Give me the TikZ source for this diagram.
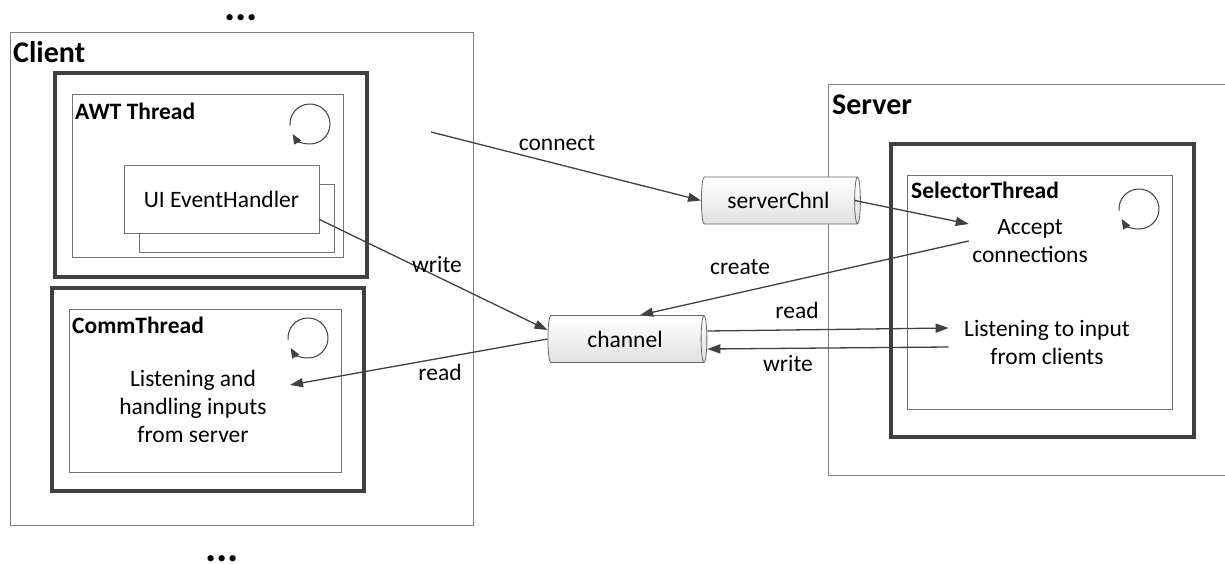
\documentclass[tikz,border=0pt]{standalone}
\usepackage{fontspec}
\setmainfont{Carlito}
\usetikzlibrary{shapes.geometric,arrows.meta}

\begin{document}
\begin{tikzpicture}[x=1pt,y=-1pt]
        \tikzstyle{every node}=[font=\fontsize{23.5}{28}\selectfont, text=black]
        \tikzstyle{outerbox}=[draw=black!50, line width=1pt, rectangle, inner sep=0pt]
        \tikzstyle{thickbox}=[draw=black!75, line width=3.5pt, rectangle, inner sep=0pt]
        \tikzstyle{thinbox}=[draw=black!55, line width=1pt, rectangle, inner sep=0pt, fill=white]
        \tikzstyle{title}=[anchor=base west, inner sep=0pt, font=\fontsize{23.5}{28}\selectfont\bfseries]
        \tikzstyle{bigtitle}=[title, font=\fontsize{30}{34}\selectfont\bfseries]
        \tikzstyle{chnl}=[cylinder, draw=black!60, line width=0.8pt, aspect=0.25, minimum width=47pt, minimum height=159pt, top color=white, bottom color=black!12]
        \tikzstyle{arr}=[draw=black!75, line width=1.3pt, -{Triangle[length=13pt,width=9pt]}]
        \tikzstyle{loopc}=[draw=black!75, line width=1pt, -{Triangle[length=10pt,width=8pt]}]
        \tikzstyle{dots}=[font=\fontsize{42}{42}\selectfont\bfseries]
        \useasboundingbox (0,0) rectangle (1225,564);
        % client side
        \node[outerbox, minimum width=463pt, minimum height=492pt] (client) at (241.5,279) {};
        \node[bigtitle] (clientlbl) at (13,63) {Client};
        \node[thickbox, minimum width=312pt, minimum height=204pt] (awt) at (211,175) {};
        \node[thinbox, minimum width=271pt, minimum height=162pt] (awtin) at (207.5,176) {};
        \node[title] (awtlbl) at (75,120) {AWT Thread};
        \draw[loopc] (310,124) ++(-185:20) arc[start angle=-185, end angle=150, radius=20];
        \node[thinbox, minimum width=195pt, minimum height=67pt] (uiback) at (236.5,218.5) {};
        \node[thinbox, minimum width=195pt, minimum height=67pt] (ui) at (221.5,199.5) {UI EventHandler};
        \node[thickbox, minimum width=312pt, minimum height=203pt] (comm) at (208,389.5) {};
        \node[thinbox, minimum width=272pt, minimum height=163pt] (commin) at (205,390.5) {};
        \node[title] (commlbl) at (72,333) {CommThread};
        \draw[loopc] (308,338) ++(-185:20) arc[start angle=-185, end angle=150, radius=20];
        \node[align=center] (commtxt) at (193,406) {Listening and\\handling inputs\\from server};
        \node[dots] (dotstop) at (241,18) {...};
        \node[dots] (dotsbot) at (222,559) {...};
        % server side
        \draw[draw=black!50, line width=1pt] (1226,85) -- (828,85) -- (828,475) -- (1226,475);
        \node[bigtitle] (serverlbl) at (832,115) {Server};
        \node[thickbox, minimum width=303pt, minimum height=293pt] (sel) at (1042.5,290.5) {};
        \node[thinbox, minimum width=265pt, minimum height=233pt] (selin) at (1039.5,292.5) {};
        \node[title] (sellbl) at (911,198) {SelectorThread};
        \draw[loopc] (1139,209) ++(-185:20) arc[start angle=-185, end angle=150, radius=20];
        \node[align=center] (accept) at (1030,241) {Accept\\connections};
        \node[align=center] (listen) at (1047,342) {Listening to input\\from clients};
        % channels
        \node[chnl] (srvchnl) at (778.5,200.5) {serverChnl};
        \node[chnl] (chnl) at (625,339) {channel};
        % connectors
        \coordinate (cstart) at (431,132);
        \coordinate (creadend) at (290,385);
        \draw[arr] (cstart) -- (srvchnl.west);
        \draw[arr] ([xshift=-6pt]srvchnl.east) -- ([yshift=17pt]accept.west);
        \draw[arr] (accept.west) -- ([xshift=15pt]chnl.north);
        \draw[arr] ([yshift=-20pt]ui.east) -- ([yshift=9pt]chnl.west);
        \draw[arr] (chnl.west) -- (creadend);
        \draw[arr] ([yshift=8pt]chnl.east) -- ([xshift=-12pt,yshift=14pt]listen.west);
        \draw[arr] ([xshift=-12pt,yshift=-5pt]listen.west) -- ([yshift=-10pt]chnl.east);
        \node (lconnect) at (557,143) {connect};
        \node (lcreate) at (740,267) {create};
        \node (lwritec) at (437,265) {write};
        \node (lreadc) at (440,372) {read};
        \node (lreads) at (797,310) {read};
        \node (lwrites) at (788,363) {write};
    \end{tikzpicture}
\end{document}
